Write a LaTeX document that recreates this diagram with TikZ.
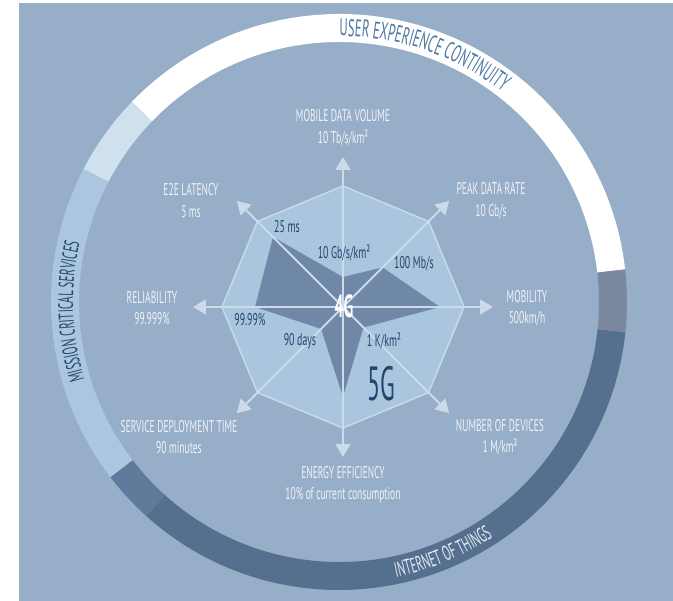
\documentclass[tikz,border=0pt]{standalone}
\usepackage{fontspec}
\setmainfont{PT Sans}
\newfontfamily\condlbl[FakeStretch=0.56]{PT Sans}
\newfontfamily\condin[FakeStretch=0.58]{PT Sans}
\newfontfamily\condring[FakeStretch=0.53]{PT Sans}
\newfontfamily\condbig[FakeStretch=0.5]{PT Sans}
\usetikzlibrary{arrows.meta,decorations.text}
\definecolor{bg}{HTML}{97AEC8}
\definecolor{ringwhite}{HTML}{FFFFFF}
\definecolor{ringpale}{HTML}{CFE0EE}
\definecolor{ringlight}{HTML}{AAC7DF}
\definecolor{ringmid}{HTML}{5F7A9B}
\definecolor{ringdark}{HTML}{55708F}
\definecolor{ringgray}{HTML}{7C87A0}
\definecolor{octfill}{HTML}{AAC5DE}
\definecolor{octline}{HTML}{C6D8EA}
\definecolor{fourg}{HTML}{6F88A8}
\definecolor{axcol}{HTML}{CCDBEA}
\definecolor{lbl}{HTML}{EEF3F8}
\definecolor{dk}{HTML}{24456D}
\definecolor{uec}{HTML}{5077A3}
\definecolor{iot}{HTML}{E3EBF4}
\tikzset{
  outerlbl/.style={font=\condlbl\fontsize{17}{21.5}\selectfont, text=lbl, align=center, inner sep=0pt},
  innerlbl/.style={font=\condin\fontsize{17}{18}\selectfont, text=dk, inner sep=0pt},
  axisarrow/.style={draw=axcol, line width=1.8pt, -{Triangle[length=13pt,width=15pt]}},
  octagon/.style={fill=octfill, draw=octline, line width=1.6pt, line join=miter},
  fourgpoly/.style={fill=fourg, draw=none},
}
\newcommand{\ringseg}[3]{\fill[#3] (#1:288pt) arc[start angle=#1, end angle=#2, radius=288pt] -- (#2:260pt) arc[start angle=#2, end angle=#1, radius=260pt] -- cycle;}
\begin{document}
\begin{tikzpicture}[x=1pt,y=1pt]
\useasboundingbox (-339,-299) rectangle (334,302);
\fill[white] (-339,-299) rectangle (334,302);
\fill[bg] (-320,-299) rectangle (334,299);
% ring
\ringseg{6.5}{136}{ringwhite}
\ringseg{136}{152.5}{ringpale}
\ringseg{152.5}{217.5}{ringlight}
\ringseg{217.5}{228}{ringmid}
\ringseg{228}{354}{ringdark}
\ringseg{354}{366.5}{ringgray}
% ring texts
\path[decorate, decoration={text along path, text align=center,
  text={|\condring\fontsize{24}{24}\selectfont\color{uec}|USER EXPERIENCE CONTINUITY}}]
  (101:266pt) arc[start angle=101, end angle=41, radius=266pt];
\path[decorate, decoration={text along path, text align=center,
  text={|\condring\fontsize{21}{21}\selectfont\color{dk}|MISSION CRITICAL SERVICES}}]
  (212:266pt) arc[start angle=212, end angle=152, radius=266pt];
\path[decorate, decoration={text along path, text align=center,
  text={|\condring\fontsize{21}{21}\selectfont\color{iot}|INTERNET OF THINGS}}]
  (262.5:281pt) arc[start angle=262.5, end angle=322.5, radius=281pt];
% radar
\begin{scope}[shift={(4,-5)}]
\coordinate (c) at (0,0);
\foreach \i/\a in {1/90,2/45,3/0,4/-45,5/-90,6/-135,7/180,8/135}{
  \coordinate (o\i) at (\a:121pt);
  \coordinate (t\i) at (\a:150pt);
}
\coordinate (g1) at (90:30pt);
\coordinate (g2) at (45:56pt);
\coordinate (g3) at (0:97pt);
\coordinate (g4) at (-45:29pt);
\coordinate (g5) at (-90:90pt);
\coordinate (g6) at (-135:31pt);
\coordinate (g7) at (180:88pt);
\coordinate (g8) at (135:99pt);
\path[octagon] (o1) -- (o2) -- (o3) -- (o4) -- (o5) -- (o6) -- (o7) -- (o8) -- cycle;
\path[fourgpoly] (g1) -- (g2) -- (g3) -- (g4) -- (g5) -- (g6) -- (g7) -- (g8) -- cycle;
\foreach \i in {1,...,8}{ \draw[axisarrow] (c) -- (t\i); }
\end{scope}
% outer labels
\node[outerlbl] (mdv) at (4,174.5) {MOBILE DATA VOLUME\\10 Tb/s/km²};
\node[outerlbl] (e2e) at (-148,101.5) {E2E LATENCY\\5 ms};
\node[outerlbl] (pdr) at (152,101.5) {PEAK DATA RATE\\10 Gb/s};
\node[outerlbl] (rel) at (-187,-6) {RELIABILITY\\99.999\%};
\node[outerlbl] (mob) at (188,-6) {MOBILITY\\500km/h};
\node[outerlbl] (sdt) at (-160,-135) {SERVICE DEPLOYMENT TIME\\90 minutes};
\node[outerlbl] (nod) at (161,-135) {NUMBER OF DEVICES\\1 M/km²};
\node[outerlbl] (ene) at (4,-182.5) {ENERGY EFFICIENCY\\10\% of current consumption};
% inner labels
\node[innerlbl] (l25) at (-52,75) {25 ms};
\node[innerlbl] (l10g) at (5,49) {10 Gb/s/km²};
\node[innerlbl] (l100) at (75,38) {100 Mb/s};
\node[innerlbl] (l99) at (-89,-18) {99.99\%};
\node[innerlbl] (l90) at (-39,-39) {90 days};
\node[innerlbl] (l1k) at (45,-39) {1 K/km²};
\node[font=\condbig\bfseries\fontsize{32}{32}\selectfont, text=white, inner sep=0pt] (fg) at (5,-4) {4G};
\node[font=\condbig\fontsize{48}{48}\selectfont, text=dk, inner sep=0pt] (sg) at (42,-82) {5G};
\end{tikzpicture}
\end{document}
